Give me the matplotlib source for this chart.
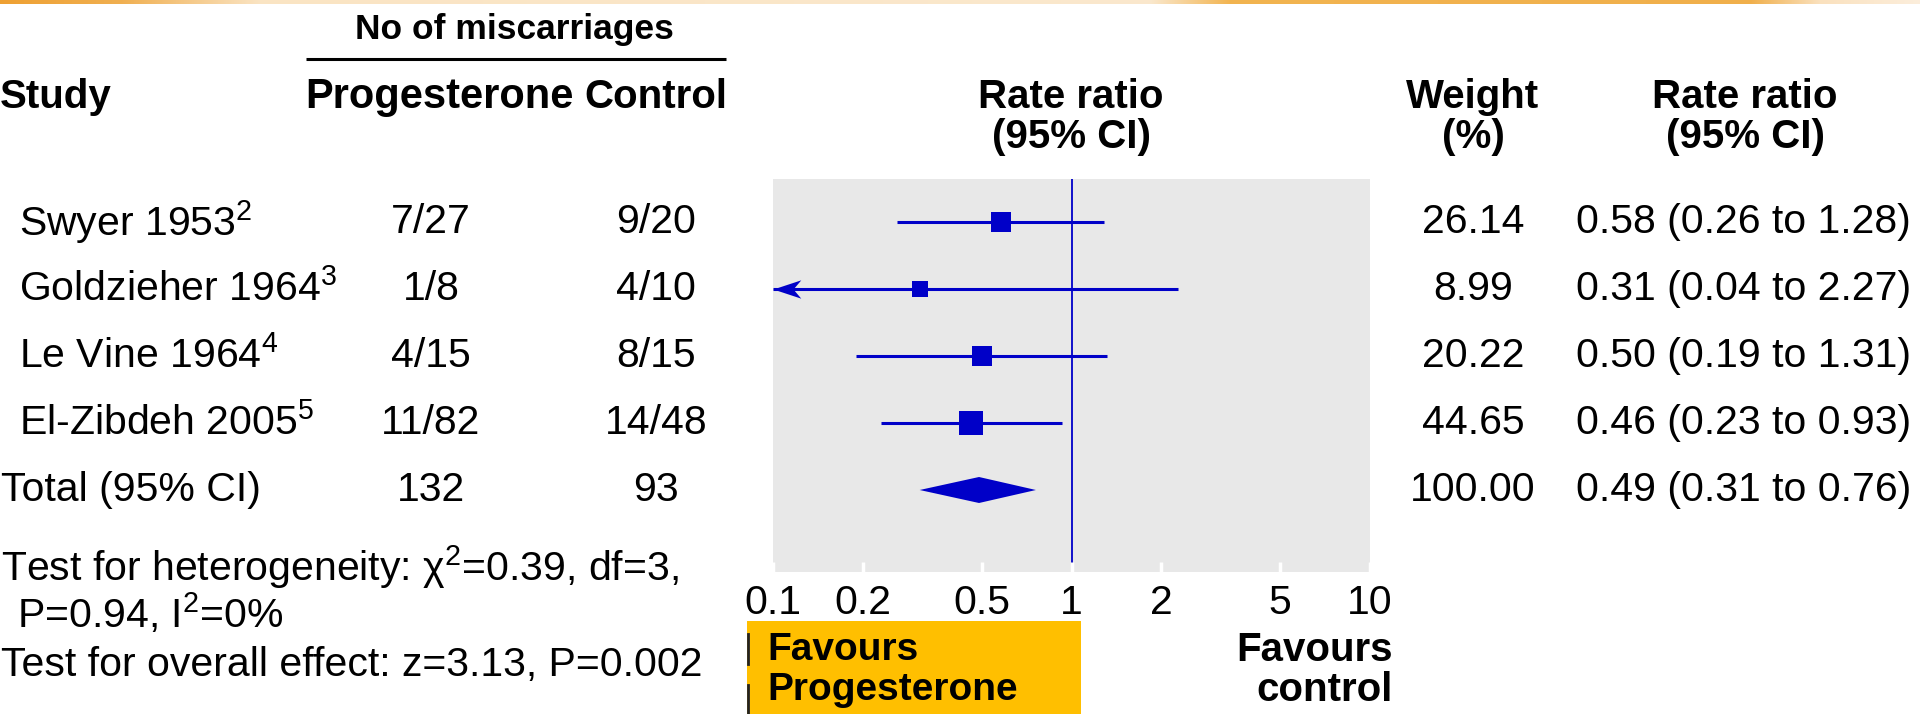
import numpy as np
import matplotlib
matplotlib.use("Agg")
import matplotlib.pyplot as plt
from matplotlib.patches import Rectangle
from matplotlib.path import Path
from matplotlib.ticker import NullLocator

# ---- data -------------------------------------------------------------
studies = ["Swyer 1953", "Goldzieher 1964", "Le Vine 1964", "El-Zibdeh 2005"]
refs = ["2", "3", "4", "5"]
prog_events = ["7/27", "1/8", "4/15", "11/82"]
ctrl_events = ["9/20", "4/10", "8/15", "14/48"]
prog_total = 132
ctrl_total = 93
weights = [26.14, 8.99, 20.22, 44.65]
rate_ratio = [0.58, 0.31, 0.50, 0.46]
ci_low = [0.26, 0.04, 0.19, 0.23]
ci_high = [1.28, 2.27, 1.31, 0.93]
pooled_weight = 100.00
pooled_rr = 0.49
pooled_low = 0.31
pooled_high = 0.76
x_ticks = [0.1, 0.2, 0.5, 1, 2, 5, 10]
x_tick_labels = ["0.1", "0.2", "0.5", "1", "2", "5", "10"]
heterogeneity_1 = "Test for heterogeneity: χ$^{2}$=0.39, df=3,"
heterogeneity_2 = "P=0.94, I$^{2}$=0%"
overall_effect = "Test for overall effect: z=3.13, P=0.002"

# ---- style ------------------------------------------------------------
plt.rcParams["font.family"] = ["Liberation Sans", "DejaVu Sans"]
plt.rcParams["mathtext.fontset"] = "custom"
plt.rcParams["mathtext.rm"] = "Liberation Sans"
plt.rcParams["mathtext.it"] = "Liberation Sans:italic"
plt.rcParams["mathtext.bf"] = "Liberation Sans:bold"

BLUE = "#0000C8"
PANEL = "#E8E8E8"
YELLOW = "#FFBF00"
FS = 29.5      # body text size
HFS = 29       # bold header size

W, H = 1920, 714
fig = plt.figure(figsize=(W / 100, H / 100), dpi=100)

# full-figure overlay in pixel units for the table text
ov = fig.add_axes([0, 0, 1, 1], zorder=0)
ov.set_axis_off()

# thin orange band along the top edge
stops_x = [0, 120, 260, 1150, 1230, 1750, 1820, 1920]
stops_c = np.array([
    [238, 160, 50], [240, 175, 80], [250, 228, 195], [250, 232, 205],
    [242, 180, 80], [240, 175, 75], [250, 225, 190], [252, 238, 220],
]) / 255.0
xs = np.arange(W)
band = np.stack([np.interp(xs, stops_x, stops_c[:, k]) for k in range(3)], axis=-1)
ov.imshow(band[np.newaxis, :, :], extent=[0, W, 4, 0], aspect="auto", interpolation="bilinear")
ov.set_xlim(0, W)
ov.set_ylim(H, 0)

# layout (pixels)
ROW0, STEP = 222, 67
rows_px = [ROW0 + STEP * i for i in range(len(studies) + 1)]
X_NAME, X_PROG, X_CTRL, X_RR, X_W, X_RRTXT = 19, 431, 656, 1071, 1473, 1576
PANEL_L, PANEL_R, PANEL_T, PANEL_B = 773, 1370, 179, 572

# column headers
ov.text(514, 30, "No of miscarriages", fontsize=25.5, fontweight="bold", ha="center", va="center")
ov.plot([306, 726], [59, 59], color="black", lw=2.2, solid_capstyle="butt")
ov.text(0, 97, "Study", fontsize=HFS, fontweight="bold", ha="left", va="center")
ov.text(439, 97, "Progesterone", fontsize=30, fontweight="bold", ha="center", va="center")
ov.text(X_CTRL, 97, "Control", fontsize=HFS, fontweight="bold", ha="center", va="center")
ov.text(X_RR, 97, "Rate ratio", fontsize=HFS, fontweight="bold", ha="center", va="center")
ov.text(X_RR, 137, "(95% CI)", fontsize=HFS, fontweight="bold", ha="center", va="center")
ov.text(X_W, 97, "Weight", fontsize=HFS, fontweight="bold", ha="center", va="center")
ov.text(X_W, 137, "(%)", fontsize=HFS, fontweight="bold", ha="center", va="center")
ov.text(1745, 97, "Rate ratio", fontsize=HFS, fontweight="bold", ha="center", va="center")
ov.text(1745, 137, "(95% CI)", fontsize=HFS, fontweight="bold", ha="center", va="center")

# study rows
for i, name in enumerate(studies):
    y = rows_px[i]
    ov.text(X_NAME, y, f"{name}$^{{{refs[i]}}}$", fontsize=FS, ha="left", va="center")
    ov.text(X_PROG, y, prog_events[i], fontsize=FS, ha="center", va="center")
    ov.text(X_CTRL, y, ctrl_events[i], fontsize=FS, ha="center", va="center")
    ov.text(X_W, y, f"{weights[i]:.2f}", fontsize=FS, ha="center", va="center")
    ov.text(X_RRTXT, y,
            f"{rate_ratio[i]:.2f} ({ci_low[i]:.2f} to {ci_high[i]:.2f})",
            fontsize=FS, ha="left", va="center")

# pooled row
yt = rows_px[-1]
ov.text(1, yt, "Total (95% CI)", fontsize=FS, ha="left", va="center")
ov.text(X_PROG, yt, str(prog_total), fontsize=FS, ha="center", va="center")
ov.text(X_CTRL, yt, str(ctrl_total), fontsize=FS, ha="center", va="center")
ov.text(X_W, yt, f"{pooled_weight:.2f}", fontsize=FS, ha="center", va="center")
ov.text(X_RRTXT, yt, f"{pooled_rr:.2f} ({pooled_low:.2f} to {pooled_high:.2f})",
        fontsize=FS, ha="left", va="center")

# test statistics
ov.text(1, 567, heterogeneity_1, fontsize=FS, ha="left", va="center")
ov.text(17, 613, heterogeneity_2, fontsize=FS, ha="left", va="center")
ov.text(1, 665, overall_effect, fontsize=FS, ha="left", va="center")

# direction labels
ov.add_patch(Rectangle((747, 621), 334, 93, facecolor=YELLOW, edgecolor="none"))
ov.plot([748, 748], [634, 664], color="#222222", lw=2)
ov.plot([748, 748], [685, 714], color="#222222", lw=2)
ov.text(767, 650, "Favours", fontsize=28, fontweight="bold", ha="left", va="center")
ov.text(767, 690, "Progesterone", fontsize=28, fontweight="bold", ha="left", va="center")
ov.text(1393, 650, "Favours", fontsize=HFS, fontweight="bold", ha="right", va="center")
ov.text(1393, 690, "control", fontsize=HFS, fontweight="bold", ha="right", va="center")

# ---- forest plot panel -----------------------------------------------
ax = fig.add_axes([PANEL_L / W, 1 - PANEL_B / H,
                   (PANEL_R - PANEL_L) / W, (PANEL_B - PANEL_T) / H], zorder=1)
ax.set_facecolor(PANEL)
for s in ax.spines.values():
    s.set_visible(False)
ax.set_xscale("log")
ax.set_xlim(x_ticks[0], x_ticks[-1])
ax.set_ylim((PANEL_B - ROW0) / STEP, (PANEL_T - ROW0) / STEP)
ax.set_xticks(x_ticks)
ax.set_xticklabels(x_tick_labels)
ax.xaxis.set_minor_locator(NullLocator())
ax.set_yticks([])
ax.tick_params(axis="x", direction="in", length=7, width=2.5, color="white",
               pad=9, labelsize=FS)

ax.axvline(1, color=BLUE, lw=1.3, zorder=1)

# concave arrowhead whose tip sits on the marker anchor
arrow_head = Path([(0, 0), (1, 0.33), (0.72, 0), (1, -0.33), (0, 0)],
                  [Path.MOVETO, Path.LINETO, Path.LINETO, Path.LINETO, Path.CLOSEPOLY])

x_min = x_ticks[0]
for i in range(len(studies)):
    lo = max(ci_low[i], x_min)
    ax.plot([lo, ci_high[i]], [i, i], color=BLUE, lw=2.2,
            solid_capstyle="butt", zorder=2)
    if ci_low[i] < x_min:
        ax.plot(x_min, i, marker=arrow_head, ms=40, color=BLUE, mew=0, zorder=3)
    side_px = 8 + 2.5 * np.sqrt(weights[i])
    ax.plot(rate_ratio[i], i, marker="s", ms=side_px * 0.72, color=BLUE,
            mec=BLUE, mew=0, zorder=3)

k = len(studies)
half_h = 13 / STEP
ax.fill([pooled_low, pooled_rr, pooled_high, pooled_rr],
        [k, k - half_h, k, k + half_h], color=BLUE, lw=0, zorder=3)

fig.savefig("out.png", dpi=100, facecolor="white")
